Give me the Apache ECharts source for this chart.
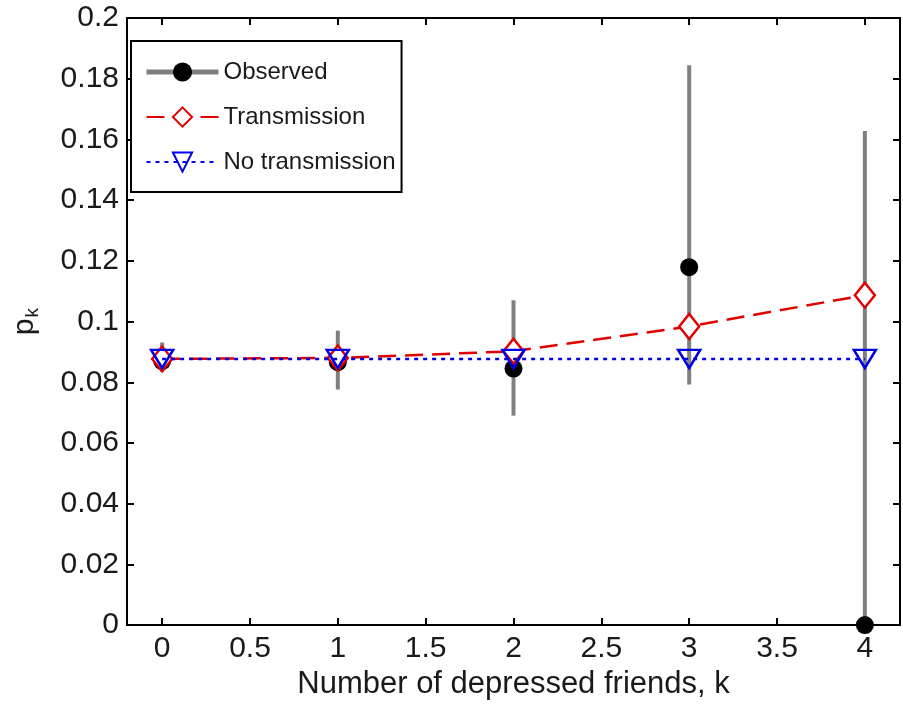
<!DOCTYPE html>
<html>
<head>
<meta charset="utf-8">
<script src="https://cdn.jsdelivr.net/npm/echarts@6/dist/echarts.min.js"></script>
<style>
html,body{margin:0;padding:0;background:#fff;}
#c{width:903px;height:705px;}
</style>
</head>
<body>
<div id="c"></div>
<script>
var kValues = [0, 1, 2, 3, 4];
var observed = [0.0870, 0.0866, 0.0845, 0.1179, 0.0];
var observedLow = [0.0835, 0.0776, 0.0690, 0.0793, 0.0];
var observedHigh = [0.0931, 0.0970, 0.1070, 0.1844, 0.1628];
var transmission = [0.0877, 0.0880, 0.0902, 0.0984, 0.1087];
var noTransmission = [0.0877, 0.0877, 0.0877, 0.0877, 0.0877];
var xTicks = [0, 0.5, 1, 1.5, 2, 2.5, 3, 3.5, 4];
var seriesNames = ['Observed', 'Transmission', 'No transmission'];

var FONT = 'Liberation Sans';
var TXT = '#1a1a1a';

function pairs(ys) { return kValues.map(function (k, i) { return [k, ys[i]]; }); }
var errData = kValues.map(function (k, i) { return [k, observedLow[i], observedHigh[i]]; });

var axisLineStyle = {color: '#000', width: 2};

var chart = echarts.init(document.getElementById('c'), null, {renderer: 'canvas'});
chart.setOption({
  animation: false,
  backgroundColor: '#fff',
  grid: {left: 127, right: 3, top: 18, bottom: 75, containLabel: false},
  legend: {
    orient: 'vertical',
    left: 131, top: 41,
    padding: [19, 6, 18, 13],
    itemWidth: 72, itemHeight: 24, itemGap: 21,
    backgroundColor: '#fff',
    borderColor: '#000', borderWidth: 2,
    textStyle: {fontFamily: FONT, fontSize: 24, color: TXT},
    data: [
      {name: seriesNames[0], lineStyle: {color: '#808080', width: 5, opacity: 1, type: 'solid'}},
      {name: seriesNames[1]},
      {name: seriesNames[2]}
    ]
  },
  xAxis: [{
    type: 'value', min: -0.2, max: 4.2, position: 'bottom',
    name: 'Number of depressed friends, k', nameLocation: 'middle', nameGap: 42,
    nameTextStyle: {fontFamily: FONT, fontSize: 31, color: TXT},
    axisLine: {show: true, onZero: false, lineStyle: axisLineStyle},
    axisTick: {show: true, inside: true, length: 7, customValues: xTicks, lineStyle: axisLineStyle},
    axisLabel: {show: true, margin: 9, customValues: xTicks, fontFamily: FONT, fontSize: 30, color: TXT},
    splitLine: {show: false}
  }, {
    type: 'value', min: -0.2, max: 4.2, position: 'top',
    axisLine: {show: true, onZero: false, lineStyle: axisLineStyle},
    axisTick: {show: true, inside: true, length: 7, customValues: xTicks, lineStyle: axisLineStyle},
    axisLabel: {show: false},
    splitLine: {show: false}
  }],
  yAxis: [{
    type: 'value', min: 0, max: 0.2, interval: 0.02, position: 'left',
    name: 'p{sub|k}', nameLocation: 'middle', nameGap: 85, nameRotate: 90,
    nameTextStyle: {fontFamily: FONT, fontSize: 30, color: TXT,
      rich: {sub: {fontFamily: FONT, fontSize: 19, color: TXT, verticalAlign: 'bottom', padding: [15, 0, 0, 1]}}},
    axisLine: {show: true, onZero: false, lineStyle: axisLineStyle},
    axisTick: {show: true, inside: true, length: 7, lineStyle: axisLineStyle},
    axisLabel: {show: true, margin: 8, fontFamily: FONT, fontSize: 30, color: TXT},
    splitLine: {show: false}
  }, {
    type: 'value', min: 0, max: 0.2, interval: 0.02, position: 'right',
    axisLine: {show: true, onZero: false, lineStyle: axisLineStyle},
    axisTick: {show: true, inside: true, length: 7, lineStyle: axisLineStyle},
    axisLabel: {show: false},
    splitLine: {show: false}
  }],
  series: [{
    name: 'errorbars',
    type: 'custom',
    xAxisIndex: 0, yAxisIndex: 0,
    clip: false,
    z: 1,
    data: errData,
    renderItem: function (params, api) {
      var x = api.value(0);
      var lo = api.coord([x, api.value(1)]);
      var hi = api.coord([x, api.value(2)]);
      return {
        type: 'line',
        shape: {x1: lo[0], y1: lo[1], x2: hi[0], y2: hi[1]},
        style: {stroke: '#808080', lineWidth: 4}
      };
    }
  }, {
    name: seriesNames[0],
    type: 'line',
    z: 2,
    clip: false,
    data: pairs(observed),
    symbol: 'circle', symbolSize: 18,
    showAllSymbol: true,
    lineStyle: {opacity: 0, width: 0, color: '#808080'},
    itemStyle: {color: '#000', borderColor: '#000', borderWidth: 0}
  }, {
    name: seriesNames[1],
    type: 'line',
    z: 3,
    clip: false,
    data: pairs(transmission),
    symbol: 'diamond', symbolSize: [20, 25],
    showAllSymbol: true,
    lineStyle: {color: '#e00000', width: 2.5, type: [18, 9]},
    itemStyle: {color: '#fff', borderColor: '#e00000', borderWidth: 2.5, opacity: 1}
  }, {
    name: seriesNames[2],
    type: 'line',
    z: 4,
    clip: false,
    data: pairs(noTransmission),
    symbol: 'triangle', symbolSize: [22, 18], symbolRotate: 180,
    showAllSymbol: true,
    lineStyle: {color: '#0000e6', width: 2.5, type: [4, 5]},
    itemStyle: {color: 'rgba(255,255,255,0)', borderColor: '#0000e6', borderWidth: 2.5}
  }]
});
</script>
</body>
</html>
